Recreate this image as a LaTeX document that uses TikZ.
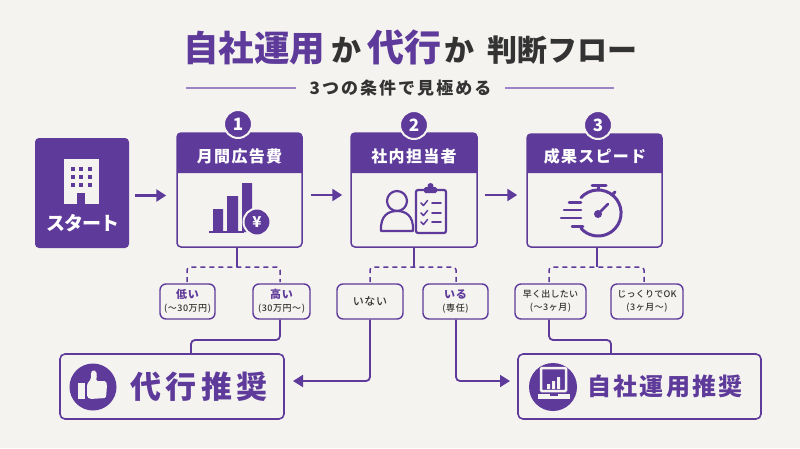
\documentclass[tikz,border=0pt]{standalone}
\usepackage{fontspec}
\setmainfont{Noto Sans CJK JP}
\newfontfamily\jpblack{Noto Sans CJK JP Black}
\newfontfamily\jpmed{Noto Sans CJK JP Medium}
\usetikzlibrary{arrows.meta,calc}
\definecolor{pur}{HTML}{5E3A9A}
\definecolor{lpur}{HTML}{9C84C9}
\definecolor{ink}{HTML}{333333}
\definecolor{bgc}{HTML}{F5F3EF}
\newcommand{\fsz}[1]{\fontsize{#1}{#1}\selectfont}
\newcommand{\optA}[1]{{\color{pur}\bfseries\fsz{11}\addfontfeature{LetterSpace=5}#1}}
\newcommand{\optB}[1]{{\color{ink}\jpmed\fsz{9}\addfontfeature{LetterSpace=6}#1}}
\newcommand{\optC}[1]{{\color{ink}\jpmed\fsz{9}\addfontfeature{LetterSpace=3}#1}}
\tikzset{
  cardbox/.style={draw=pur,line width=1.5pt,fill=bgc,rounded corners=4pt,minimum height=114pt,inner sep=0pt},
  headtext/.style={text=white,font=\bfseries\fsz{16}\addfontfeature{LetterSpace=8},inner sep=0pt},
  badge/.style={circle,fill=pur,draw=bgc,line width=2pt,text=white,font=\bfseries\fsz{17},minimum size=28pt,inner sep=0pt},
  optbox/.style={draw=pur,line width=1.4pt,fill=bgc,rounded corners=6pt,minimum height=35pt,align=center,inner sep=0pt},
  resbox/.style={draw=pur,line width=1.6pt,fill=bgc,rounded corners=5pt,minimum height=65pt,inner sep=0pt},
  flow/.style={draw=pur,line width=2.8pt,-{Triangle[length=10pt,width=12pt]}},
  stem/.style={draw=pur,line width=1.6pt},
  branch/.style={draw=pur,line width=1.5pt,dashed,dash pattern=on 5pt off 4pt,rounded corners=3pt},
  link/.style={draw=pur,line width=1.8pt,rounded corners=4pt},
  linkarrow/.style={link,-{Triangle[length=10pt,width=12pt]}},
  iconline/.style={draw=pur,line width=2.2pt,line cap=round,line join=round},
}
\begin{document}
\begin{tikzpicture}[x=1pt,y=-1pt]
\useasboundingbox[fill=bgc] (0,0) rectangle (800,448);
% title
\node[inner sep=0pt,anchor=center] (title) at (410,47) {{\color{pur}\jpblack\fsz{35.5}自社運用}\hspace{6pt}{\color{ink}\bfseries\fsz{30}か}\hspace{6pt}{\color{pur}\jpblack\fsz{37}代行}\hspace{3pt}{\color{ink}\bfseries\fsz{30}か}\hspace{13pt}{\color{ink}\bfseries\fsz{30}判断フロー}};
\node[inner sep=0pt,text=ink,font=\bfseries\fsz{17}\addfontfeature{LetterSpace=12}] (sub) at (400.5,88) {3つの条件で見極める};
\coordinate (la) at (186,88); \coordinate (lb) at (296,88); \coordinate (lc) at (505,88); \coordinate (ld) at (614,88);
\draw[lpur,line width=1.2pt] (la) -- (lb) (lc) -- (ld);
% start
\node[fill=pur,rounded corners=4pt,minimum width=94pt,minimum height=110pt,inner sep=0pt] (start) at (82,193) {};
\fill[bgc] (64,159) rectangle (99,204);
\fill[pur] (77,193) rectangle (85,204);
\foreach \xx in {73,81,90}\foreach \yy in {169,177,185}{\fill[pur] (\xx-2,\yy-2) rectangle (\xx+2,\yy+2);}
\node[text=white,font=\bfseries\fsz{19}\addfontfeature{LetterSpace=-4},inner sep=0pt] (starttext) at (83,223) {スタート};
% cards
\node[cardbox,minimum width=125pt] (c1) at (239.5,190) {};
\node[cardbox,minimum width=126pt] (c2) at (414,190) {};
\node[cardbox,minimum width=135pt,minimum height=113pt] (c3) at (594.5,190.5) {};
\fill[pur,rounded corners=4pt] (177,173) -- (177,133) -- (302,133) [sharp corners] -- (302,173) -- cycle;
\fill[pur,rounded corners=4pt] (351,173) -- (351,133) -- (477,133) [sharp corners] -- (477,173) -- cycle;
\fill[pur,rounded corners=4pt] (527,173) -- (527,134) -- (662,134) [sharp corners] -- (662,173) -- cycle;
\node[headtext] (h1) at (239.5,156) {月間広告費};
\node[headtext] (h2) at (414,156) {社内担当者};
\node[headtext] (h3) at (595,156) {成果スピード};
\node[badge] (b1) at (238,124) {1};
\node[badge] (b2) at (414,125) {2};
\node[badge] (b3) at (598,125) {3};
% flow arrows
\path (start.east |- 0,195.5) coordinate (f0) (c1.west |- 0,195.5) coordinate (f1);
\path (c1.east |- 0,195) coordinate (fb) (c2.west |- 0,195) coordinate (fc) (c2.east |- 0,195) coordinate (fd) (c3.west |- 0,195) coordinate (fe);
\draw[flow,shorten <=6pt,shorten >=10pt] (f0) -- (f1);
\draw[flow,shorten <=8pt,shorten >=8pt] (fb) -- (fc);
\draw[flow,shorten <=7pt,shorten >=9pt] (fd) -- (fe);
% bar chart
\fill[pur] (213,209) rectangle (223,232) (227,196) rectangle (238,232) (242,183) rectangle (252,232);
\fill[pur] (209,231) rectangle (244,233);
\node[circle,fill=pur,draw=bgc,line width=2pt,minimum size=27pt,inner sep=0pt,text=white,font=\bfseries\fsz{15}] (yen) at (257,222) {¥};
% person + clipboard
\draw[iconline] (397,201) circle[radius=10];
\draw[iconline] (381,231) .. controls (380,215) and (389,211) .. (397,211) .. controls (405,211) and (414,215) .. (413,231) -- cycle;
\draw[iconline,rounded corners=2pt] (424,190) -- (416,190) -- (416,233) -- (446,233) -- (446,190) -- (437,190);
\fill[pur,rounded corners=1.5pt] (424,193) rectangle (437,187);
\fill[pur] (430.5,186) circle[radius=3];
\foreach \yy in {203,213,222}{
  \draw[pur,line width=1.5pt,line cap=round,line join=round] (421,\yy) -- (423.5,\yy+2.5) -- (427.5,\yy-2.5);
  \draw[pur,line width=1.8pt,line cap=round] (432,\yy) -- (441,\yy);
}
% stopwatch
\draw[pur,line width=3pt,line cap=round] (581,197.6) arc[start angle=-138,end angle=138,radius=23] ;
\draw[pur,line width=3pt,line cap=round] (592,185) -- (606,185);
\draw[pur,line width=3pt] (598,185) -- (598,190);
\draw[pur,line width=3pt,line cap=round] (612,195) -- (615,192);
\fill[pur] (598,214) circle[radius=4];
\draw[pur,line width=2.5pt,line cap=round] (598,214) -- (608,204);
\draw[pur,line width=2.5pt,line cap=round] (569,202.5) -- (581,202.5) (564,210) -- (581,210) (561,218) -- (581,218) (572,226.5) -- (583,226.5);
% option boxes
\node[optbox,minimum width=55pt] (lo) at (187.5,301.5) {\optA{低い}\\[1pt]\optB{(〜30万円)}};
\node[optbox,minimum width=57pt] (hi) at (281.5,301.5) {\optA{高い}\\[1pt]\optB{(30万円〜)}};
\node[optbox,minimum width=66pt] (no) at (370,301.5) {{\color{ink}\jpmed\fsz{11}\addfontfeature{LetterSpace=6}いない}};
\node[optbox,minimum width=65pt] (yes) at (455.5,301.5) {\optA{いる}\\[1pt]\optB{(専任)}};
\node[optbox,minimum width=71pt] (fast) at (550.5,301.5) {\optC{早く出したい}\\[1pt]\optB{(〜3ヶ月)}};
\node[optbox,minimum width=72pt] (slow) at (647,301.5) {\optC{じっくりでOK}\\[1pt]\optB{(3ヶ月〜)}};
% branches
\coordinate (j1) at (237,267); \coordinate (j2) at (414,267); \coordinate (j3) at (597,267);
\draw[stem] (c1.south -| j1) -- (j1);
\draw[stem] (c2.south -| j2) -- (j2);
\draw[stem] (c3.south -| j3) -- (j3);
\coordinate (p1) at (187,282); \coordinate (p2) at (280,282);
\coordinate (p3) at (370,282); \coordinate (p4) at (456,282);
\coordinate (p5) at (549,282); \coordinate (p6) at (644,282);
\draw[branch] (p1) -- (p1 |- j1) -- (j1) -- (p2 |- j1) -- (p2);
\draw[branch] (p3) -- (p3 |- j2) -- (j2) -- (p4 |- j2) -- (p4);
\draw[branch] (p5) -- (p5 |- j3) -- (j3) -- (p6 |- j3) -- (p6);
% results
\node[resbox,minimum width=224pt] (r1) at (172,386.5) {};
\node[resbox,minimum width=243pt] (r2) at (639.5,386.5) {};
\coordinate (e1) at (191,354); \coordinate (e2) at (611,354);
\coordinate (t1) at (293,381); \coordinate (t2) at (510,381);
\draw[link] (p2 |- hi.south) -- (p2 |- 0,340) -- (e1 |- 0,340) -- (e1);
\draw[link] (p5 |- fast.south) -- (p5 |- 0,340) -- (e2 |- 0,340) -- (e2);
\draw[linkarrow] (p3 |- no.south) -- (p3 |- t1) -- (t1);
\draw[linkarrow] (p4 |- yes.south) -- (p4 |- t2) -- (t2);
% thumb icon
\fill[pur] (93,387) circle[radius=23.5];
\fill[bgc] (78,383) rectangle (85,399);
\fill[bgc,rounded corners=1.5pt] (87,384) -- (91,379) -- (91,372) -- (93,370) -- (96,371) -- (97,375) -- (96,381) -- (106,381) -- (107,385) -- (106,398) -- (90,399) -- (87,397) -- cycle;
\node[text=pur,font=\jpblack\fsz{31}\addfontfeature{LetterSpace=13},inner sep=0pt] (r1t) at (199,387) {代行推奨};
% laptop icon
\fill[pur] (553,387) circle[radius=24];
\draw[bgc,line width=2.5pt,rounded corners=1pt] (541,368) rectangle (566,391);
\fill[bgc] (538,394) rectangle (570,399);
\fill[pur] (550,394) rectangle (558,395.5);
\fill[bgc] (547,384) rectangle (550,389) (552,381) rectangle (555,389) (557,377) rectangle (560,389);
\node[text=pur,font=\jpblack\fsz{24}\addfontfeature{LetterSpace=9},inner sep=0pt] (r2t) at (665,386) {自社運用推奨};
\end{tikzpicture}
\end{document}
